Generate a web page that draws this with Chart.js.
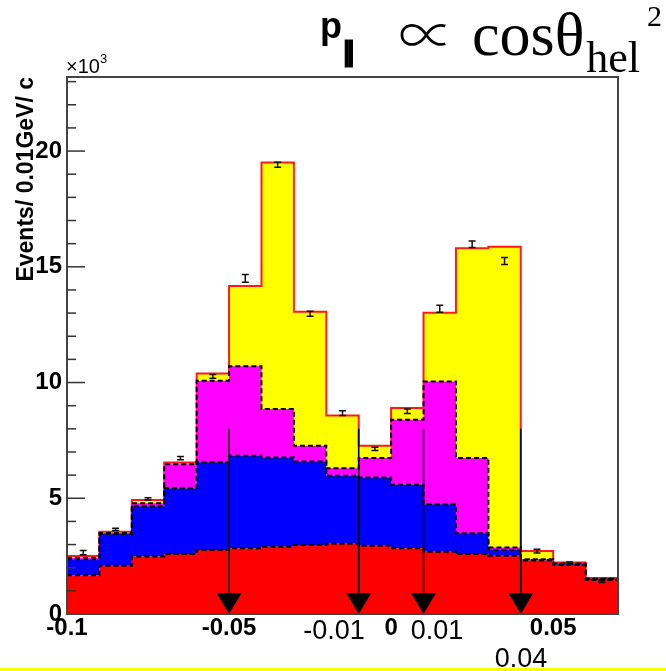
<!DOCTYPE html>
<html>
<head>
<meta charset="utf-8">
<script src="https://cdn.jsdelivr.net/npm/chart.js@4.4.1/dist/chart.umd.min.js"></script>
<style>
  body { margin: 0; background: #fff; }
  canvas { display: block; }
</style>
</head>
<body>
<canvas id="histChart" width="666" height="671"></canvas>
<script>
// bin edges, 0.01 GeV/c wide
const binEdges = [-0.10, -0.09, -0.08, -0.07, -0.06, -0.05, -0.04, -0.03, -0.02,
                  -0.01, 0.00, 0.01, 0.02, 0.03, 0.04, 0.05, 0.06, 0.07];

// stacked components (x10^3 events / bin), bottom to top
const redPart     = [1.67, 2.08, 2.48, 2.59, 2.77, 2.84, 2.91, 2.98, 3.03, 2.95, 2.84, 2.69, 2.59, 2.52, 2.31, 2.12, 1.47];
const bluePart    = [0.69, 1.38, 2.18, 2.84, 3.79, 4.00, 3.85, 3.61, 2.94, 2.95, 2.74, 2.05, 0.90, 0.25, 0.02, 0.03, 0.03];
const magentaPart = [0.06, 0.04, 0.13, 1.04, 3.52, 3.86, 2.10, 0.68, 0.33, 0.84, 2.81, 5.31, 3.25, 0.10, 0.03, 0.03, 0.02];
const yellowPart  = [0.09, 0.05, 0.13, 0.07, 0.31, 3.47, 10.65, 5.79, 2.28, 0.53, 0.51, 2.96, 9.06, 13.00, 0.36, 0.05, 0.04];

// data points and their errors
const dataVals = [2.65, 3.66, 4.97, 6.73, 10.27, 14.50, 19.41, 12.97, 8.68, 7.13, 8.76, 13.19, 15.97, 15.25, 2.72, 2.20, 1.40];
const dataErrs = [0.09, 0.05, 0.05, 0.07, 0.08, 0.17, 0.11, 0.11, 0.10, 0.07, 0.10, 0.15, 0.14, 0.15, 0.08, 0.05, 0.04];

// cut arrows
const cutValues = [-0.05, -0.01, 0.01, 0.04];
const arrowTop = 8.0;

// axis ticks
const xTickValues = [-0.1, -0.05, 0, 0.05];
const xTickLabels = ['-0.1', '-0.05', '0', '0.05'];
const yTickValues = [0, 5, 10, 15, 20];
const yTickLabels = ['0', '5', '10', '15', '20'];

// extra labels under the arrows (text, center x, baseline y)
const cutNotes = [
  { text: '-0.01', cx: 334, by: 639 },
  { text: '0.01',  cx: 437, by: 639 },
  { text: '0.04',  cx: 521, by: 667 }
];

//stack the layers
const layers = [redPart, bluePart, magentaPart, yellowPart];
const tops = [];
layers.forEach((arr, k) => {
  tops.push(arr.map((v, i) => (k ? tops[k - 1][i] : 0) + v));
});

// one point per bin edge, last value repeated at the right edge
function stepPoints(arr) {
  return binEdges.map((x, i) => ({ x: x, y: arr[Math.min(i, arr.length - 1)] }));
}

const fills = ['#ff0000', '#0000ff', '#ff00ff', '#ffff00'];

const datasets = tops.map((t, k) => ({
  data: stepPoints(t),
  stepped: 'before',
  fill: k === 0 ? 'origin' : '-1',
  backgroundColor: fills[k],
  borderColor: k === 3 ? '#ff1a1a' : '#000',
  borderWidth: 2,
  borderDash: k === 3 ? [] : [5, 3],
  pointRadius: 0
}));

// draw a glyph stretched into a box (left, top, width, height)
function glyphInBox(ctx, ch, font, bx, by, bw, bh) {
  ctx.save();
  ctx.font = font;
  const m = ctx.measureText(ch);
  const gw = m.actualBoundingBoxLeft + m.actualBoundingBoxRight;
  const gh = m.actualBoundingBoxAscent + m.actualBoundingBoxDescent;
  ctx.translate(bx, by);
  ctx.scale(bw / gw, bh / gh);
  ctx.textAlign = 'left';
  ctx.textBaseline = 'alphabetic';
  ctx.fillText(ch, m.actualBoundingBoxLeft, m.actualBoundingBoxAscent);
  ctx.restore();
}

//plugin: error bars, arrows, frame, ticks, texts

const histDecor = {
  id: 'histDecor',
  afterDatasetsDraw(chart) {
    const { ctx, scales: { x, y } } = chart;
    ctx.save();
    ctx.strokeStyle = '#111';
    ctx.lineWidth = 1.5;
    dataVals.forEach((v, i) => {
      const cx = x.getPixelForValue((binEdges[i] + binEdges[i + 1]) / 2);
      const y1 = y.getPixelForValue(v - dataErrs[i]);
      const y2 = y.getPixelForValue(v + dataErrs[i]);
      ctx.beginPath();
      ctx.moveTo(cx, y1); ctx.lineTo(cx, y2);
      ctx.moveTo(cx - 3.5, y1); ctx.lineTo(cx + 3.5, y1);
      ctx.moveTo(cx - 3.5, y2); ctx.lineTo(cx + 3.5, y2);
      ctx.stroke();
    });

    ctx.strokeStyle = '#000';
    ctx.fillStyle = '#000';
    cutValues.forEach(c => {
      const px = x.getPixelForValue(c);
      const top = y.getPixelForValue(arrowTop);
      const base = y.getPixelForValue(0);
      ctx.lineWidth = 1.6;
      ctx.beginPath();
      ctx.moveTo(px, top); ctx.lineTo(px, base - 18);
      ctx.stroke();
      ctx.beginPath();
      ctx.moveTo(px - 12.5, base - 21);
      ctx.lineTo(px + 12.5, base - 21);
      ctx.lineTo(px, base);
      ctx.closePath();
      ctx.fill();
    });
    ctx.restore();
  },
  afterDraw(chart) {
    const { ctx, chartArea: a, scales: { y } } = chart;
    ctx.save();

    // frame
    ctx.strokeStyle = '#444';
    ctx.lineWidth = 2;
    ctx.strokeRect(a.left, a.top, a.right - a.left, a.bottom - a.top);

    // inward ticks on y axis
    ctx.lineWidth = 1.5;
    ctx.strokeStyle = '#333';
    for (let v = 1; v <= y.max; v++) {
      const py = y.getPixelForValue(v);
      const len = v % 5 === 0 ? 18 : 9;
      ctx.beginPath();
      ctx.moveTo(a.left, py); ctx.lineTo(a.left + len, py);
      ctx.stroke();
    }

    // x10^3
    ctx.fillStyle = '#000';
    ctx.textBaseline = 'alphabetic';
    ctx.textAlign = 'left';
    ctx.font = '20px "Liberation Sans"';
    ctx.fillText('\u00d710', 66, 73);
    const w10 = ctx.measureText('\u00d710').width;
    ctx.font = '13px "Liberation Sans"';
    ctx.fillText('3', 66 + w10, 63);

    // title
    ctx.font = 'bold 36px "Liberation Sans"';
    ctx.fillText('p', 320, 38);
    ctx.font = 'bold 26px "DejaVu Sans"';
    ctx.lineWidth = 1.2;
    ctx.strokeStyle = '#000';
    ctx.fillText('\u2016', 342, 60);
    ctx.strokeText('\u2016', 342, 60);

    glyphInBox(ctx, '\u221d', '200 40px "Noto Sans CJK JP", "DejaVu Sans"', 400, 23, 46, 22);

    ctx.font = '62px "Liberation Serif"';
    ctx.fillText('cos\u03b8', 472, 55);
    const wc = ctx.measureText('cos\u03b8').width;
    ctx.font = '44px "Liberation Serif"';
    ctx.fillText('hel', 474 + wc, 72);
    ctx.font = '30px "Liberation Serif"';
    ctx.fillText('2', 647, 26);

    // notes under arrows
    ctx.textAlign = 'center';
    ctx.font = '27px "Liberation Sans"';
    cutNotes.forEach(n => ctx.fillText(n.text, n.cx, n.by));

    // slide stripe
    ctx.fillStyle = '#ffff00';
    ctx.fillRect(0, 668, 666, 3);
    ctx.restore();
  }
};

//config

const config = {
  type: 'line',
  data: { datasets },
  options: {
    responsive: false,
    animation: false,
    layout: { padding: { left: 0, top: 77, right: 48, bottom: 0 } },
    plugins: { legend: { display: false }, tooltip: { enabled: false } },
    scales: {
      x: {
        type: 'linear',
        min: -0.1,
        max: 0.07,
        grid: { display: false, drawTicks: false },
        border: { display: false },
        afterBuildTicks: s => { s.ticks = xTickValues.map(v => ({ value: v })); },
        afterFit: s => { s.height = 57; },
        ticks: {
          autoSkip: false,
          maxRotation: 0,
          padding: 0,
          color: '#000',
          font: { family: 'Liberation Sans', size: 24, weight: 'bold', lineHeight: 1.2 },
          callback: (v) => xTickLabels[xTickValues.findIndex(t => Math.abs(t - v) < 1e-6)]
        }
      },
      y: {
        min: 0,
        max: 23.2,
        grid: { display: false, drawTicks: false },
        border: { display: false },
        afterBuildTicks: s => { s.ticks = yTickValues.map(v => ({ value: v })); },
        afterFit: s => { s.width = 67; },
        ticks: {
          padding: 5,
          color: '#000',
          font: { family: 'Liberation Sans', size: 24, weight: 'bold' },
          callback: (v) => yTickLabels[yTickValues.indexOf(v)]
        },
        title: {
          display: true,
          text: 'Events/ 0.01GeV/ c',
          align: 'end',
          color: '#000',
          padding: { top: 13 },
          font: { family: 'Liberation Sans', size: 23, weight: 'bold' }
        }
      }
    }
  },
  plugins: [histDecor]
};

//render

const histChart = new Chart(document.getElementById('histChart'), config);
</script>
</body>
</html>
